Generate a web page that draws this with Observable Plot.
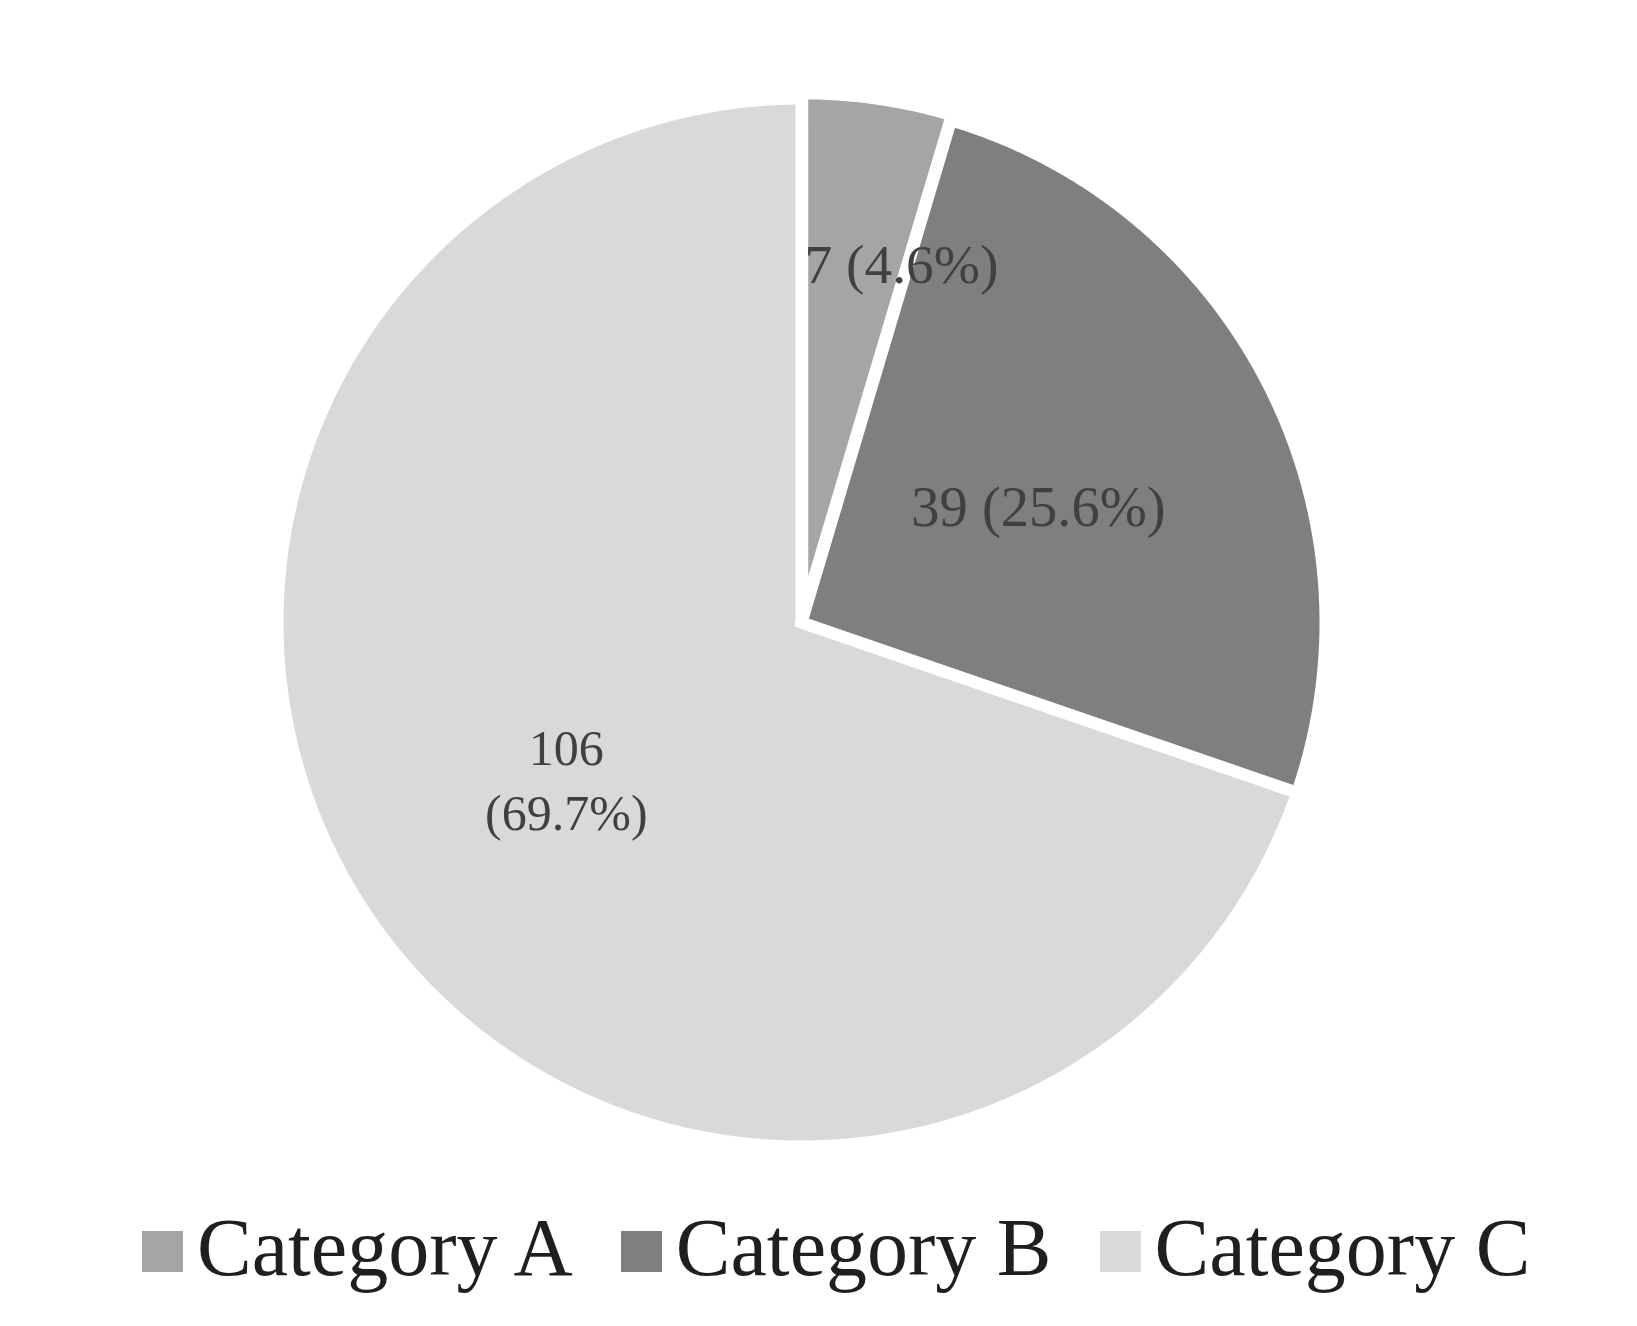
<!DOCTYPE html>
<html>
<head>
<meta charset="utf-8">
<script src="https://cdn.jsdelivr.net/npm/d3@7"></script>
<script src="https://cdn.jsdelivr.net/npm/@observablehq/plot@0.6"></script>
<style>
  html, body { margin: 0; padding: 0; background: #ffffff; }
  #wrap { position: relative; width: 1637px; height: 1326px; }
  #legend { position: absolute; left: 142px; top: 1207px; display: flex; align-items: center;
    font-family: "Liberation Serif", "Times New Roman", serif; font-size: 82px; line-height: 1; color: #1f1f1f; }
  .item { display: flex; align-items: center; margin-right: 48px; white-space: nowrap; }
  .sw { width: 41px; height: 41px; margin-right: 14px; margin-top: 7px; }
</style>
</head>
<body>
<div id="wrap"><div id="chart"></div><div id="legend"></div></div>
<script>
// ---- data ----
const categories = ["Category A", "Category B", "Category C"];
const counts = [7, 39, 106];
const percentLabels = ["4.6%", "25.6%", "69.7%"];
const colors = ["#a5a5a5", "#7f7f7f", "#d9d9d9"];

// ---- layout ----
const W = 1637, H = 1190;
const cx = 801, cy = 622, R = 524;       // pie centre and radius (px)
const explode = [0.01, 0, 0];            // slice offset as fraction of radius
const labelRadius = [0.7185, 0.507, 0.537];
const labelAngle = [15.4, 63.1, 236.7];  // degrees clockwise from 12 o'clock
const labelBreak = [" ", " ", "\n"];
const labelSize = [55.5, 56.5, 50];

const pie = d3.pie().sort(null).value(d => d)(counts);
const pts = [];
pie.forEach((a, i) => {
  const mid = (a.startAngle + a.endAngle) / 2;
  const ox = explode[i] * Math.sin(mid), oy = explode[i] * Math.cos(mid);
  pts.push({cat: categories[i], x: ox, y: oy});
  const n = Math.max(2, Math.ceil((a.endAngle - a.startAngle) / (Math.PI / 720)));
  for (let k = 0; k <= n; k++) {
    const t = a.startAngle + (a.endAngle - a.startAngle) * k / n;
    pts.push({cat: categories[i], x: ox + Math.sin(t), y: oy + Math.cos(t)});
  }
});

const labels = categories.map((c, i) => {
  const t = labelAngle[i] * Math.PI / 180;
  return {
    cat: c,
    x: labelRadius[i] * Math.sin(t),
    y: labelRadius[i] * Math.cos(t),
    size: labelSize[i],
    text: `${counts[i]}${labelBreak[i]}(${percentLabels[i]})`
  };
});

const order = [2, 1, 0];
const chart = Plot.plot({
  width: W, height: H,
  margin: 0,
  style: {background: "#ffffff", fontFamily: "'Liberation Serif', 'Times New Roman', serif"},
  x: {domain: [-1, 1], range: [cx - R, cx + R], axis: null},
  y: {domain: [-1, 1], range: [cy + R, cy - R], axis: null},
  color: {domain: categories, range: colors},
  marks: [
    ...order.map(i => Plot.line(pts.filter(d => d.cat === categories[i]), {
      x: "x", y: "y", z: "cat", fill: "cat",
      stroke: "#ffffff", strokeWidth: 12, strokeLinejoin: "miter", strokeMiterlimit: 4,
      curve: "linear-closed"
    })),
    Plot.text(labels, {
      x: "x", y: "y", text: "text", fill: "#404040", fontSize: "size",
      lineHeight: 1.3, textAnchor: "middle", lineAnchor: "middle"
    })
  ]
});
document.getElementById("chart").appendChild(chart);

const legend = d3.select("#legend");
categories.forEach((c, i) => {
  const it = legend.append("div").attr("class", "item");
  it.append("div").attr("class", "sw").style("background", colors[i]);
  it.append("span").text(c);
});
</script>
</body>
</html>
